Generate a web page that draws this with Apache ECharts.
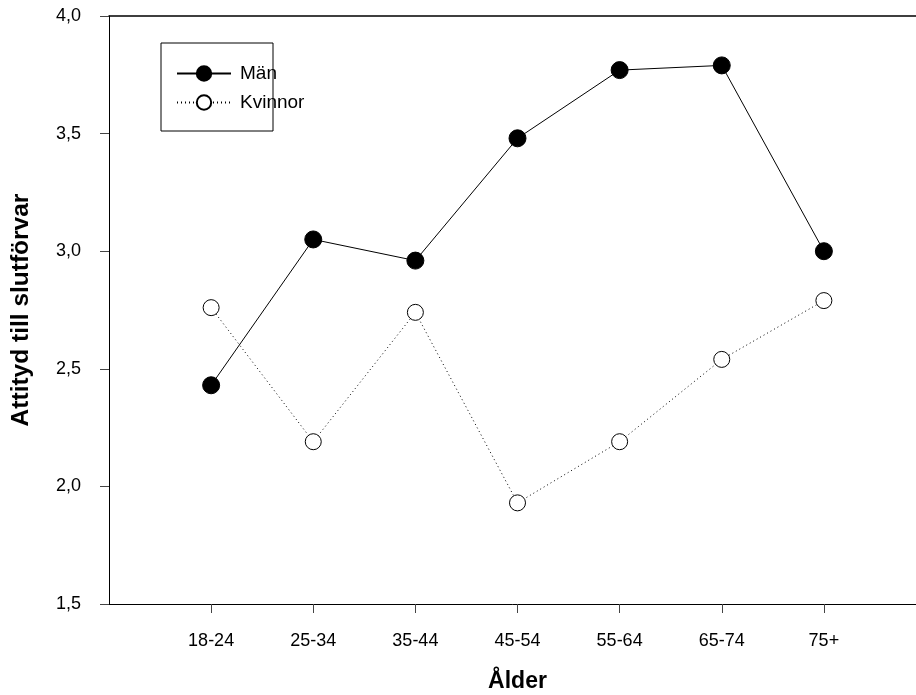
<!DOCTYPE html>
<html><head><meta charset="utf-8">
<script src="https://cdn.jsdelivr.net/npm/echarts@6/dist/echarts.min.js"></script>
<style>html,body{margin:0;padding:0;background:#fff}#c{width:916px;height:695px}</style>
</head><body><div id="c"></div>
<script>
const categories = ['18-24','25-34','35-44','45-54','55-64','65-74','75+'];
const manValues = [2.43, 3.05, 2.96, 3.48, 3.77, 3.79, 3.00];
const kvinnorValues = [2.76, 2.19, 2.74, 1.93, 2.19, 2.54, 2.79];
const yTicks = [1.5, 2.0, 2.5, 3.0, 3.5, 4.0];

const pos = categories.map((_, i) => i + 1);
const chart = echarts.init(document.getElementById('c'), null, {renderer: 'canvas'});
const font = 'Liberation Sans, Arial, sans-serif';
chart.setOption({
  animation: false,
  backgroundColor: '#fff',
  textStyle: {fontFamily: font},
  grid: {left: 109, right: -10, top: 16, bottom: 91, containLabel: false, outerBoundsMode: 'none'},
  legend: {
    left: 176, top: 64, orient: 'vertical', itemWidth: 54, itemHeight: 18, itemGap: 10,
    padding: 0,
    textStyle: {fontFamily: font, fontSize: 19, lineHeight: 18, color: '#000', padding: [0, 0, 0, 4]},
    data: ['Män', 'Kvinnor']
  },
  graphic: [{type: 'rect', shape: {x: 161, y: 43, width: 112, height: 88}, style: {fill: 'none', stroke: '#000', lineWidth: 1}, z: 10}],
  xAxis: [{
    type: 'value', min: 0, max: 8, interval: 1,
    name: 'Ålder', nameLocation: 'middle', nameGap: 66,
    nameTextStyle: {fontFamily: font, fontSize: 23, fontWeight: 'bold', color: '#000', verticalAlign: 'top'},
    axisLine: {show: true, lineStyle: {color: '#000', width: 1}},
    axisTick: {show: true, length: 9, inside: false, customValues: pos, lineStyle: {color: '#444'}},
    axisLabel: {margin: 28, fontSize: 18, color: '#000', fontFamily: font, customValues: pos,
      formatter: v => categories[Math.round(v) - 1] || ''},
    splitLine: {show: false}
  }, {
    type: 'value', position: 'top', min: 0, max: 8,
    axisLine: {show: true, lineStyle: {color: '#000', width: 1.5}},
    axisTick: {show: false}, axisLabel: {show: false}, splitLine: {show: false}
  }],
  yAxis: {
    type: 'value', min: 1.5, max: 4.0, interval: 0.5,
    name: 'Attityd till slutförvar', nameLocation: 'middle', nameGap: 75, nameRotate: 90,
    nameTextStyle: {fontFamily: font, fontSize: 24.5, fontWeight: 'bold', color: '#000'},
    axisLine: {show: true, lineStyle: {color: '#000', width: 1}},
    axisTick: {show: true, length: 9, lineStyle: {color: '#444'}},
    axisLabel: {margin: 28, fontSize: 18, color: '#000', fontFamily: font,
      customValues: yTicks,
      formatter: v => v.toFixed(1).replace('.', ',')},
    splitLine: {show: false}
  },
  series: [{
    name: 'Män', type: 'line', xAxisIndex: 0,
    data: manValues.map((v, i) => [pos[i], v]),
    symbol: 'circle', symbolSize: 17,
    lineStyle: {color: '#000', width: 1, type: 'solid'},
    itemStyle: {color: '#000', borderColor: '#000', borderWidth: 1}
  }, {
    name: 'Kvinnor', type: 'line', xAxisIndex: 0,
    data: kvinnorValues.map((v, i) => [pos[i], v]),
    symbol: 'circle', symbolSize: 16,
    lineStyle: {color: '#000', width: 1, type: [1, 3]},
    itemStyle: {color: '#fff', borderColor: '#000', borderWidth: 1}
  }]
});
</script></body></html>
